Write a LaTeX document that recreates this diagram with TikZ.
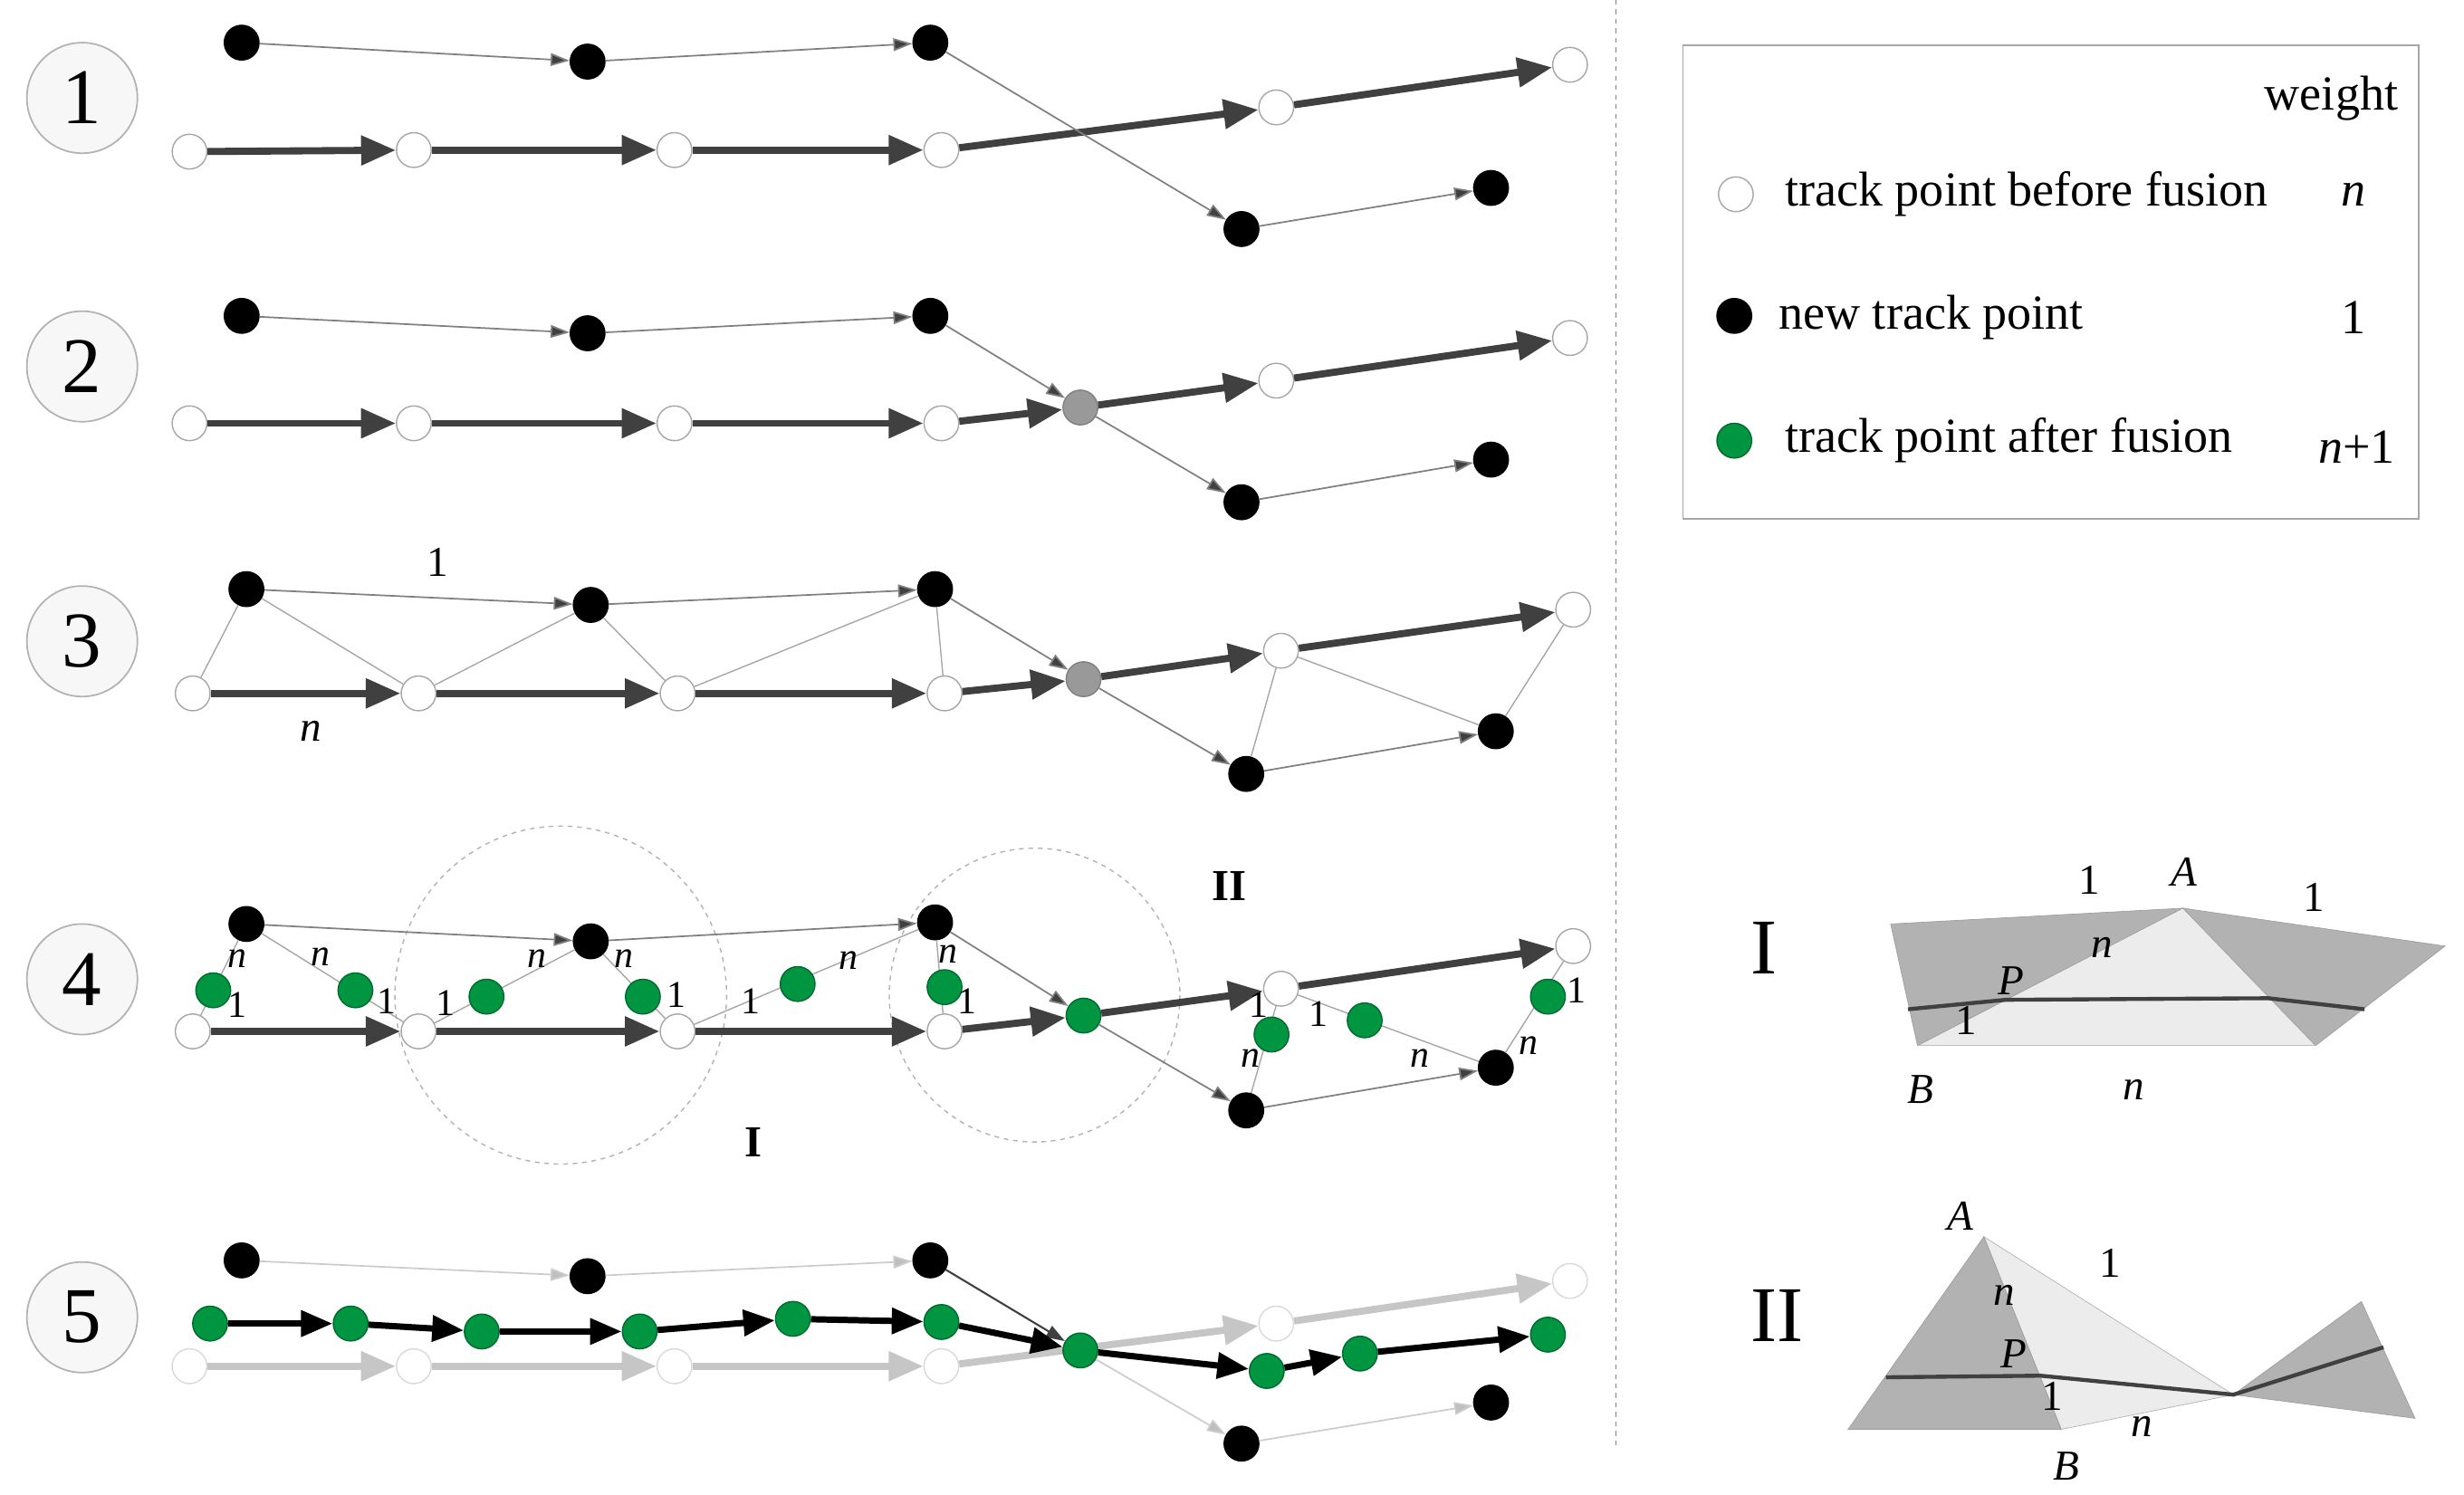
\documentclass[tikz,border=0pt]{standalone}
\usepackage{fontspec}
\setmainfont{Liberation Serif}
\usetikzlibrary{arrows.meta}
\definecolor{gr}{RGB}{0,150,65}
\definecolor{dk}{RGB}{64,64,64}
\begin{document}
\begin{tikzpicture}[x=1pt,y=-1pt,
 pt/.style={circle,minimum size=22pt,inner sep=0pt,draw=gray!70,line width=0.8pt},
 W/.style={pt,fill=white},
 B/.style={pt,fill=black,draw=black},
 G/.style={pt,fill=gr,draw=gr!70!black},
 Y/.style={pt,fill=gray!80,draw=gray},
 LW/.style={pt,fill=white,draw=gray!30},
 bold/.style={draw=dk,line width=4.5pt,-{Triangle[length=22pt,width=18pt]}},
 lbold/.style={draw=gray!45,line width=4.5pt,-{Triangle[length=22pt,width=18pt]}},
 kbold/.style={draw=black,line width=4pt,-{Triangle[length=20pt,width=16pt]}},
 thin/.style={draw=gray,line width=1pt,-{Triangle[length=12pt,width=8pt,fill=dk]}},
 lthin/.style={draw=gray!40,line width=1pt,-{Triangle[length=12pt,width=8pt,fill=gray!50]}},
 kthin/.style={draw=dk,line width=1.2pt,-{Triangle[length=12pt,width=8pt]}},
 tl/.style={draw=gray!70,line width=0.8pt},
 num/.style={circle,minimum size=70pt,draw=gray!60,line width=1pt,fill=gray!6,font=\fontsize{50}{50}\selectfont},
 lab/.style={font=\fontsize{24}{24}\selectfont,inner sep=0pt},
 ilab/.style={font=\fontsize{24}{24}\selectfont\itshape,inner sep=0pt},
 leg/.style={font=\fontsize{31}{31}\selectfont,anchor=west,inner sep=0pt},
 il/.style={font=\fontsize{27}{27}\selectfont},
 ili/.style={font=\fontsize{27}{27}\selectfont\itshape}]
\useasboundingbox (0,0) rectangle (1560,946);
% circled numbers
\foreach \y/\t [count=\i] in {62/1,232/2,406/3,620/4,834/5}
  \node[num] (c\i) at (52,\y) {\t};
% divider
\draw[gray,dashed,line width=0.8pt] (1023,0) -- (1023,915);
% ---------- Row 1
\foreach \n/\x/\y in {w1/120/96,w2/262/95,w3/427/95,w4/596/95,w5/808/68,w6/994/41}
  \node[W] (a\n) at (\x,\y) {};
\foreach \n/\x/\y in {b1/153/27,b2/372/39,b3/589/27,b4/786/145,b5/944/119}
  \node[B] (a\n) at (\x,\y) {};
\draw[bold] (aw1)--(aw2); \draw[bold] (aw2)--(aw3); \draw[bold] (aw3)--(aw4);
\draw[bold] (aw4)--(aw5); \draw[bold] (aw5)--(aw6);
\draw[thin] (ab1)--(ab2); \draw[thin] (ab2)--(ab3); \draw[thin] (ab3)--(ab4); \draw[thin] (ab4)--(ab5);
% ---------- Row 2
\foreach \n/\x/\y in {w1/120/268,w2/262/268,w3/427/268,w4/596/268,w5/808/241,w6/994/214}
  \node[W] (b\n) at (\x,\y) {};
\foreach \n/\x/\y in {b1/153/200,b2/372/211,b3/589/200,b4/786/318,b5/944/291}
  \node[B] (b\n) at (\x,\y) {};
\node[Y] (bg) at (684,258) {};
\draw[bold] (bw1)--(bw2); \draw[bold] (bw2)--(bw3); \draw[bold] (bw3)--(bw4);
\draw[bold] (bw4)--(bg); \draw[bold] (bg)--(bw5); \draw[bold] (bw5)--(bw6);
\draw[thin] (bb1)--(bb2); \draw[thin] (bb2)--(bb3); \draw[thin] (bb3)--(bg); \draw[thin] (bg)--(bb4); \draw[thin] (bb4)--(bb5);
% ---------- Row 3
\foreach \n/\x/\y in {w1/122/439,w2/265/439,w3/429/439,w4/598/439,w5/811/412,w6/996/386}
  \node[W] (c\n) at (\x,\y) {};
\foreach \n/\x/\y in {b1/156/373,b2/374/383,b3/592/373,b4/789/490,b5/947/463}
  \node[B] (c\n) at (\x,\y) {};
\node[Y] (cg) at (686,430) {};
\draw[tl] (cb1)--(cw1); \draw[tl] (cb1)--(cw2); \draw[tl] (cb2)--(cw2); \draw[tl] (cb2)--(cw3);
\draw[tl] (cb3)--(cw3); \draw[tl] (cb3)--(cw4); \draw[tl] (cw5)--(cb4); \draw[tl] (cw5)--(cb5); \draw[tl] (cw6)--(cb5);
\draw[bold] (cw1)--(cw2); \draw[bold] (cw2)--(cw3); \draw[bold] (cw3)--(cw4);
\draw[bold] (cw4)--(cg); \draw[bold] (cg)--(cw5); \draw[bold] (cw5)--(cw6);
\draw[thin] (cb1)--(cb2); \draw[thin] (cb2)--(cb3); \draw[thin] (cb3)--(cg); \draw[thin] (cg)--(cb4); \draw[thin] (cb4)--(cb5);
\node[il] (l31) at (277,356) {1};
\node[ili] (l3n) at (197,463) {n};
% ---------- Row 4
\draw[gray!60,dashed,line width=0.8pt] (355,630) ellipse (105 and 107);
\draw[gray!60,dashed,line width=0.8pt] (655,630) ellipse (92 and 93);
\foreach \n/\x/\y in {w1/122/653,w2/265/653,w3/429/653,w4/598/653,w5/811/626,w6/996/599}
  \node[W] (d\n) at (\x,\y) {};
\foreach \n/\x/\y in {b1/156/585,b2/374/596,b3/592/584,b4/789/703,b5/947/676}
  \node[B] (d\n) at (\x,\y) {};
\draw[tl] (db1)--(dw1); \draw[tl] (db1)--(dw2); \draw[tl] (db2)--(dw2); \draw[tl] (db2)--(dw3);
\draw[tl] (db3)--(dw3); \draw[tl] (db3)--(dw4); \draw[tl] (dw5)--(db4); \draw[tl] (dw5)--(db5); \draw[tl] (dw6)--(db5);
\node[G] (dg) at (686,643) {};
\draw[bold] (dw1)--(dw2); \draw[bold] (dw2)--(dw3); \draw[bold] (dw3)--(dw4);
\draw[bold] (dw4)--(dg); \draw[bold] (dg)--(dw5); \draw[bold] (dw5)--(dw6);
\draw[thin] (db1)--(db2); \draw[thin] (db2)--(db3); \draw[thin] (db3)--(dg); \draw[thin] (dg)--(db4); \draw[thin] (db4)--(db5);
\foreach \x/\y [count=\i] in {135/627,225/627,308/631,407/631,505/623,598/625,805/655,864/646,980/631}
  \node[G] (dgr\i) at (\x,\y) {};
\foreach \x/\y [count=\i] in {150/607,203/606,340/607,395/607,537/608,600/604,792/670,899/670,968/662}
  \node[ilab] (dn\i) at (\x,\y) {n};
\foreach \x/\y [count=\i] in {150/636,245/634,282/635,428/630,475/634,612/634,797/636,835/642,998/627}
  \node[lab] (d1\i) at (\x,\y) {1};
\node[font=\fontsize{28}{28}\selectfont\bfseries] (dI) at (477,723) {I};
\node[font=\fontsize{28}{28}\selectfont\bfseries] (dII) at (778,561) {II};
% ---------- Row 5
\foreach \n/\x/\y in {w1/120/865,w2/262/865,w3/427/865,w4/596/865,w5/808/838,w6/994/811}
  \node[LW] (e\n) at (\x,\y) {};
\foreach \n/\x/\y in {b1/153/798,b2/372/808,b3/589/798,b4/786/914,b5/944/888}
  \node[B] (e\n) at (\x,\y) {};
\draw[lbold] (ew1)--(ew2); \draw[lbold] (ew2)--(ew3); \draw[lbold] (ew3)--(ew4);
\draw[lbold] (ew4)--(ew5); \draw[lbold] (ew5)--(ew6);
\foreach \x/\y [count=\i] in {133/838,222/838,305/843,405/843,502/835,596/837,684/855,802/868,861/857,980/845}
  \node[G] (eg\i) at (\x,\y) {};
\draw[lthin] (eb1)--(eb2); \draw[lthin] (eb2)--(eb3); \draw[kthin] (eb3)--(eg7); \draw[lthin] (eg7)--(eb4); \draw[lthin] (eb4)--(eb5);
\foreach \a/\b in {1/2,2/3,3/4,4/5,5/6,6/7,7/8,8/9,9/10}
  \draw[kbold] (eg\a)--(eg\b);
% ---------- Legend
\node[draw=gray!70,line width=1pt,minimum width=466pt,minimum height=300pt,anchor=north west] (box) at (1065,28) {};
\node[leg,anchor=center] (lw) at (1476,62) {weight};
\node[W] (lp1) at (1099,123) {};
\node[B] (lp2) at (1098,200) {};
\node[G] (lp3) at (1098,279) {};
\node[leg] (lt1) at (1130,123) {track point before fusion};
\node[leg] (lt2) at (1126,201) {new track point};
\node[leg] (lt3) at (1130,279) {track point after fusion};
\node[leg,anchor=center,font=\fontsize{31}{31}\selectfont\itshape] (lv1) at (1490,123) {n};
\node[leg,anchor=center] (lv2) at (1490,201) {1};
\node[leg,anchor=center] (lv3) at (1492,283) {\textit{n}+1};
% ---------- Inset I
\node[font=\fontsize{50}{50}\selectfont] (iI) at (1117,600) {I};
\coordinate (IA) at (1382,575); \coordinate (IL) at (1197,585); \coordinate (IB) at (1214,662);
\coordinate (IC) at (1466,662); \coordinate (IR) at (1548,599);
\fill[gray!15] (IA)--(IB)--(IC)--cycle;
\fill[gray!60,draw=gray!75] (IL)--(IA)--(IB)--cycle;
\fill[gray!60,draw=gray!75] (IA)--(IR)--(IC)--cycle;
\draw[gray!50] (IB)--(IC);
\draw[dk,line width=2.5pt] (1208,639)--(1270,633)--(1436,632)--(1497,639);
\node[il] (i11) at (1323,557) {1};
\node[ili] (iAl) at (1383,552) {A};
\node[il] (i12) at (1465,568) {1};
\node[ili] (in1) at (1331,600) {n};
\node[ili] (iP) at (1273,621) {P};
\node[il] (i13) at (1245,646) {1};
\node[ili] (iB) at (1216,690) {B};
\node[ili] (in2) at (1351,690) {n};
% ---------- Inset II
\node[font=\fontsize{50}{50}\selectfont] (iII) at (1125,833) {II};
\coordinate (JA) at (1256,783); \coordinate (JL) at (1170,905); \coordinate (JB) at (1305,905);
\coordinate (JM) at (1414,883); \coordinate (JT) at (1495,824); \coordinate (JR) at (1529,898);
\fill[gray!15,draw=gray!60] (JA)--(JM)--(JB)--cycle;
\fill[gray!60,draw=gray!75] (JA)--(JL)--(JB)--cycle;
\fill[gray!60,draw=gray!75] (JM)--(JT)--(JR)--cycle;
\draw[dk,line width=2.5pt] (1194,872)--(1292,871)--(JM)--(1509,853);
\node[ili] (jAl) at (1241,770) {A};
\node[il] (j11) at (1336,800) {1};
\node[ili] (jn1) at (1269,820) {n};
\node[ili] (jP) at (1275,857) {P};
\node[il] (j12) at (1299,884) {1};
\node[ili] (jn2) at (1356,903) {n};
\node[ili] (jB) at (1308,928) {B};
\end{tikzpicture}
\end{document}
